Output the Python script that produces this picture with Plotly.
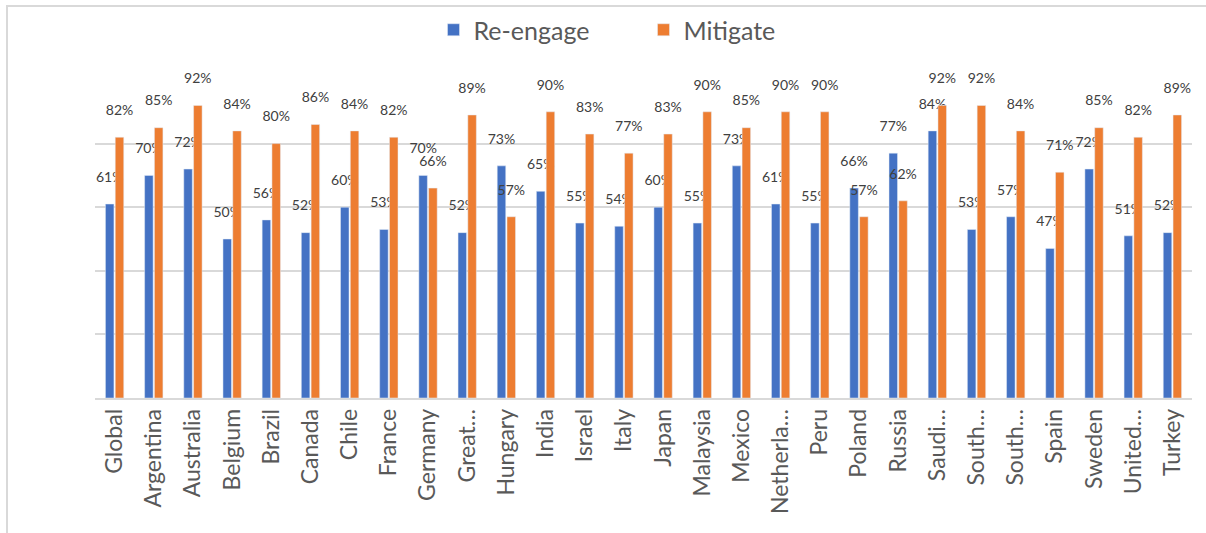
import plotly.graph_objects as go

categories = ["Global", "Argentina", "Australia", "Belgium", "Brazil", "Canada", "Chile",
              "France", "Germany", "Great Britain", "Hungary", "India", "Israel", "Italy",
              "Japan", "Malaysia", "Mexico", "Netherlands", "Peru", "Poland", "Russia",
              "Saudi Arabia", "South Africa", "South Korea", "Spain", "Sweden",
              "United States", "Turkey"]
tick_labels = ["Global", "Argentina", "Australia", "Belgium", "Brazil", "Canada", "Chile",
               "France", "Germany", "Great…", "Hungary", "India", "Israel", "Italy",
               "Japan", "Malaysia", "Mexico", "Netherla…", "Peru", "Poland", "Russia",
               "Saudi…", "South…", "South…", "Spain", "Sweden", "United…", "Turkey"]
reengage = [61, 70, 72, 50, 56, 52, 60, 53, 70, 52, 73, 65, 55, 54, 60, 55, 73, 61, 55,
            66, 77, 84, 53, 57, 47, 72, 51, 52]
mitigate = [82, 85, 92, 84, 80, 86, 84, 82, 66, 89, 57, 90, 83, 77, 83, 90, 85, 90, 90,
            57, 62, 92, 92, 84, 71, 85, 82, 89]

FONT = "Lato"
LABEL = "%{y}%<br><span style='font-size:6px'> </span>"
fig = go.Figure()
fig.add_trace(go.Bar(name="Re-engage", x=categories, y=reengage, marker_color="#4472C4",
                     texttemplate=LABEL, textposition="outside", cliponaxis=False,
                     constraintext="none",
                     textfont=dict(size=14, color="#404040", family=FONT)))
fig.add_trace(go.Bar(name="Mitigate", x=categories, y=mitigate, marker_color="#ED7D31",
                     texttemplate=LABEL, textposition="outside", cliponaxis=False,
                     constraintext="none",
                     textfont=dict(size=14, color="#404040", family=FONT)))

L, R, T, B = 95, 14, 80, 135
W, H = 1206, 533
pw, ph = W - L - R, H - T - B
fig.update_layout(
    width=W, height=H,
    margin=dict(l=L, r=R, t=T, b=B, autoexpand=False),
    paper_bgcolor="white", plot_bgcolor="white",
    barmode="group", bargap=0.5, bargroupgap=0.13,
    font=dict(family=FONT, color="#595959"),
    legend=dict(orientation="h", x=0.5, xanchor="center", y=1 + 50 / ph, yanchor="middle",
                bgcolor="rgba(0,0,0,0)",
                font=dict(size=25, color="#595959", family=FONT), itemwidth=30,
                entrywidth=165, traceorder="normal"),
    xaxis=dict(tickmode="array", tickvals=categories, ticktext=tick_labels,
               tickangle=-90, tickfont=dict(size=23, color="#595959", family=FONT),
               showline=True, linecolor="#d9d9d9", linewidth=1.5, ticks="",
               showgrid=False, automargin=False),
    yaxis=dict(range=[0, 100], dtick=20, showticklabels=False, showgrid=True,
               gridcolor="#d9d9d9", gridwidth=1.5, zeroline=False, automargin=False),
    shapes=[dict(type="rect", xref="paper", yref="paper",
                 x0=(7 - L) / pw, x1=(W + 10 - L) / pw,
                 y0=-(B + 10) / ph, y1=1 + (T - 6) / ph,
                 line=dict(color="#d9d9d9", width=2), layer="below")],
)
fig.write_html("out.html")
